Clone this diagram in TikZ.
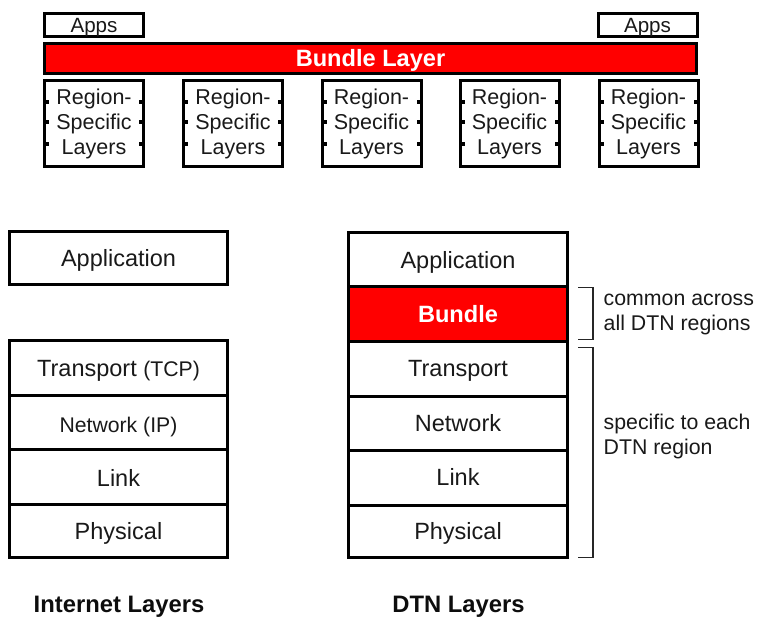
\documentclass[tikz,border=0pt]{standalone}
\usepackage{fontspec}
\setmainfont{Liberation Sans}
\begin{document}
\begin{tikzpicture}[x=1pt,y=-1pt,
  box/.style={draw=black, line width=3pt, inner sep=0pt, outer sep=0pt, align=center,
    text=black!90, font=\fontsize{23.5}{28}\selectfont},
  capc/.style={text height=16.8pt, text depth=0pt},
  cell/.style={box, capc, minimum width=218pt},
  dcell/.style={box, capc, minimum width=219pt},
  regbox/.style={box, minimum width=99pt, minimum height=86pt, font=\fontsize{21.5}{25}\selectfont,
    execute at begin node={\rule{0pt}{19.5pt}}},
  appbox/.style={box, text height=14.75pt, text depth=0pt, minimum width=99pt, minimum height=23pt, font=\fontsize{20.6}{24}\selectfont},
  redbox/.style={fill=red, text=white, font=\bfseries\fontsize{23.6}{28}\selectfont},
  smalltxt/.style={font=\fontsize{21.2}{26}\selectfont},
  note/.style={anchor=west, align=left, inner sep=0pt, text=black!90, font=\fontsize{21.3}{25}\selectfont},
  caption/.style={inner sep=0pt, text=black!95, font=\bfseries\fontsize{23.8}{28}\selectfont},
  brk/.style={draw=black!85, line width=1.5pt},
  tick/.style={fill=black}]
\useasboundingbox (0,0) rectangle (757,617);

% top part
\node[appbox] (appsL) at (94,25) {Apps};
\node[appbox] (appsR) at (647.5,25) {Apps};
\node[box, capc, redbox, minimum width=652pt, minimum height=30pt] (bl) at (370.5,58.5) {Bundle Layer};
\node[regbox] (r1) at (94,123.5) {Region-\\Specific\\Layers};
\node[regbox] (r2) at (233,123.5) {Region-\\Specific\\Layers};
\node[regbox] (r3) at (371.5,123.5) {Region-\\Specific\\Layers};
\node[regbox] (r4) at (509.5,123.5) {Region-\\Specific\\Layers};
\node[regbox] (r5) at (648.5,123.5) {Region-\\Specific\\Layers};
\foreach \i in {1,...,5}{
  \foreach \d in {21,1,-21}{
    \fill[tick] ([xshift=1.5pt,yshift={(\d-2)*1pt}]r\i.west) rectangle ([xshift=4.5pt,yshift={(\d+2)*1pt}]r\i.west);
    \fill[tick] ([xshift=-1.5pt,yshift={(\d-2)*1pt}]r\i.east) rectangle ([xshift=-4.5pt,yshift={(\d+2)*1pt}]r\i.east);
  }
}

% Internet stack
\node[cell, minimum height=53pt] (iapp) at (118.5,258) {Application};
\node[cell, minimum height=54.5pt] (itr) at (118.5,367.75) {Transport {\fontsize{21.2}{26}\selectfont(TCP)}};
\node[cell, smalltxt, minimum height=54.5pt, text height=20.2pt] (inet) at (118.5,422.25) {Network (IP)};
\node[cell, minimum height=54.5pt, text height=19.8pt] (ilink) at (118.5,476.75) {Link};
\node[cell, minimum height=53.5pt] (iphy) at (118.5,530.75) {Physical};

% DTN stack
\node[dcell, minimum height=54.5pt] (dapp) at (458,259.75) {Application};
\node[dcell, redbox, minimum height=54pt] (dbun) at (458,314) {Bundle};
\node[dcell, minimum height=55pt] (dtr) at (458,368.5) {Transport};
\node[dcell, minimum height=54pt] (dnet) at (458,423) {Network};
\node[dcell, minimum height=55pt] (dlink) at (458,477.5) {Link};
\node[dcell, minimum height=52.5pt] (dphy) at (458,531.25) {Physical};

% brackets
\draw[brk] (578,287.5) -- (593,287.5) -- (593,339.5) -- (578,339.5);
\draw[brk] (578,347.5) -- (593,347.5) -- (593,557.5) -- (578,557.5);
\node[note] (n1) at (603.5,314) {common across\\all DTN regions};
\node[note] (n2) at (603.5,436.5) {specific to each\\DTN region};

% captions
\node[caption] (c1) at (119,607) {Internet Layers};
\node[caption] (c2) at (458.5,607) {DTN Layers};
\end{tikzpicture}
\end{document}
